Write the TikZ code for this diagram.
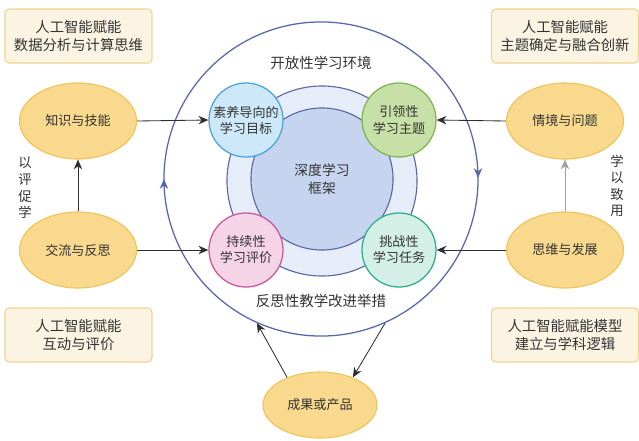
\documentclass[tikz,border=0pt]{standalone}
\usepackage{fontspec}
\setmainfont{Noto Sans CJK SC}
\usepackage{tikz}
\usetikzlibrary{arrows.meta,positioning,shapes.geometric,decorations.markings}
\definecolor{txt}{HTML}{333333}
\definecolor{arrowc}{HTML}{2E2E2E}
\definecolor{envline}{HTML}{5867AC}
\definecolor{ringline}{HTML}{5C68A6}
\definecolor{ringfill}{HTML}{E7EDF8}
\definecolor{corefill}{HTML}{C6D4EF}
\definecolor{goalline}{HTML}{4BA3D6}
\definecolor{goalfill}{HTML}{CDE8F8}
\definecolor{themeline}{HTML}{7DB653}
\definecolor{themefill}{HTML}{C7E0A7}
\definecolor{evalline}{HTML}{C55A9C}
\definecolor{evalfill}{HTML}{F5D4E7}
\definecolor{taskline}{HTML}{2FAE8A}
\definecolor{taskfill}{HTML}{D4EFE6}
\definecolor{ovalline}{HTML}{EFC45C}
\definecolor{ovalfill}{HTML}{F8D98D}
\definecolor{boxline}{HTML}{F0D68C}
\definecolor{boxfill}{HTML}{FCF4E3}

\begin{document}
\begin{tikzpicture}[x=0.025cm, y=-0.025cm,
  every node/.style={text=txt, align=center},
  infobox/.style={draw=boxline, fill=boxfill, rounded corners=3pt, line width=0.8pt,
    minimum width=3.675cm, minimum height=1.35cm, font=\fontsize{10.2}{12.6}\selectfont},
  oval/.style={ellipse, draw=ovalline, fill=ovalfill, line width=0.8pt,
    minimum width=2.925cm, minimum height=1.9cm, font=\fontsize{9.3}{11}\selectfont},
  pillar/.style={circle, draw=#1line, fill=#1fill, line width=0.9pt, inner sep=0pt,
    minimum size=1.85cm, font=\fontsize{9.3}{11.4}\selectfont},
  flow/.style={-{Stealth[length=7pt,width=6pt]}, line width=0.6pt, draw=arrowc},
  sidetext/.style={font=\fontsize{9.5}{11.8}\selectfont}
]
  \useasboundingbox (0,0) rectangle (639,441);

  % outer environment circle with the turning arrows
  \node[circle, draw=envline, line width=0.9pt, minimum size=7.85cm,
    postaction={decorate, decoration={markings,
      mark=at position 0.001 with {\arrowreversed[envline]{Stealth[length=7pt,width=6pt]}},
      mark=at position 0.5 with {\arrowreversed[envline]{Stealth[length=7pt,width=6pt]}}}}]
    (env) at (321,179) {};
  \node[circle, draw=ringline, fill=ringfill, line width=0.8pt, minimum size=4.75cm] (ring) at (322,181) {};
  \node[circle, draw=ringline, fill=corefill, line width=0.8pt, minimum size=3.55cm,
    font=\fontsize{9.8}{12.9}\selectfont] (core) at (322,179) {深度学习\\框架};

  \node[font=\fontsize{10.3}{12}\selectfont] (open) at (321,63) {开放性学习环境};
  \node[font=\fontsize{10.3}{12}\selectfont] (reflect) at (321,301) {反思性教学改进举措};

  % four pillars
  \node[pillar=goal]  (goal)  at (246,120) {素养导向的\\学习目标};
  \node[pillar=theme] (theme) at (399,120) {引领性\\学习主题};
  \node[pillar=eval]  (eval)  at (246,250) {持续性\\学习评价};
  \node[pillar=task]  (task)  at (399,250) {挑战性\\学习任务};

  % ovals
  \node[oval] (know)  at (78,121)  {知识与技能};
  \node[oval] (comm)  at (78,250)  {交流与反思};
  \node[oval] (situ)  at (565,121) {情境与问题};
  \node[oval] (think) at (565,250) {思维与发展};
  \node[oval, minimum width=2.85cm, minimum height=1.65cm] (outp) at (320,405) {成果或产品};

  % AI boxes
  \node[infobox] (box1) at (78.5,36)  {人工智能赋能\\数据分析与计算思维};
  \node[infobox] (box2) at (565,36)   {人工智能赋能\\主题确定与融合创新};
  \node[infobox] (box3) at (78.5,335) {人工智能赋能\\互动与评价};
  \node[infobox] (box4) at (565,335)  {人工智能赋能模型\\建立与学科逻辑};

  \node[sidetext] (lside) at (25,188)  {以\\评\\促\\学};
  \node[sidetext] (rside) at (617,186) {学\\以\\致\\用};

  % connectors
  \draw[flow] (know.east) -- (goal.west);
  \draw[flow] (comm.east) -- (eval.west);
  \draw[flow] (situ.west) -- (theme.east);
  \draw[flow] (think.west) -- (task.east);
  \draw[flow] (comm.north) -- (know.south);
  \draw[flow, draw=gray!75] (think.north) -- (situ.south);
  \draw[flow] (outp.140) -- (env.-114);
  \draw[flow] (env.-66) -- (outp.40);
\end{tikzpicture}
\end{document}
